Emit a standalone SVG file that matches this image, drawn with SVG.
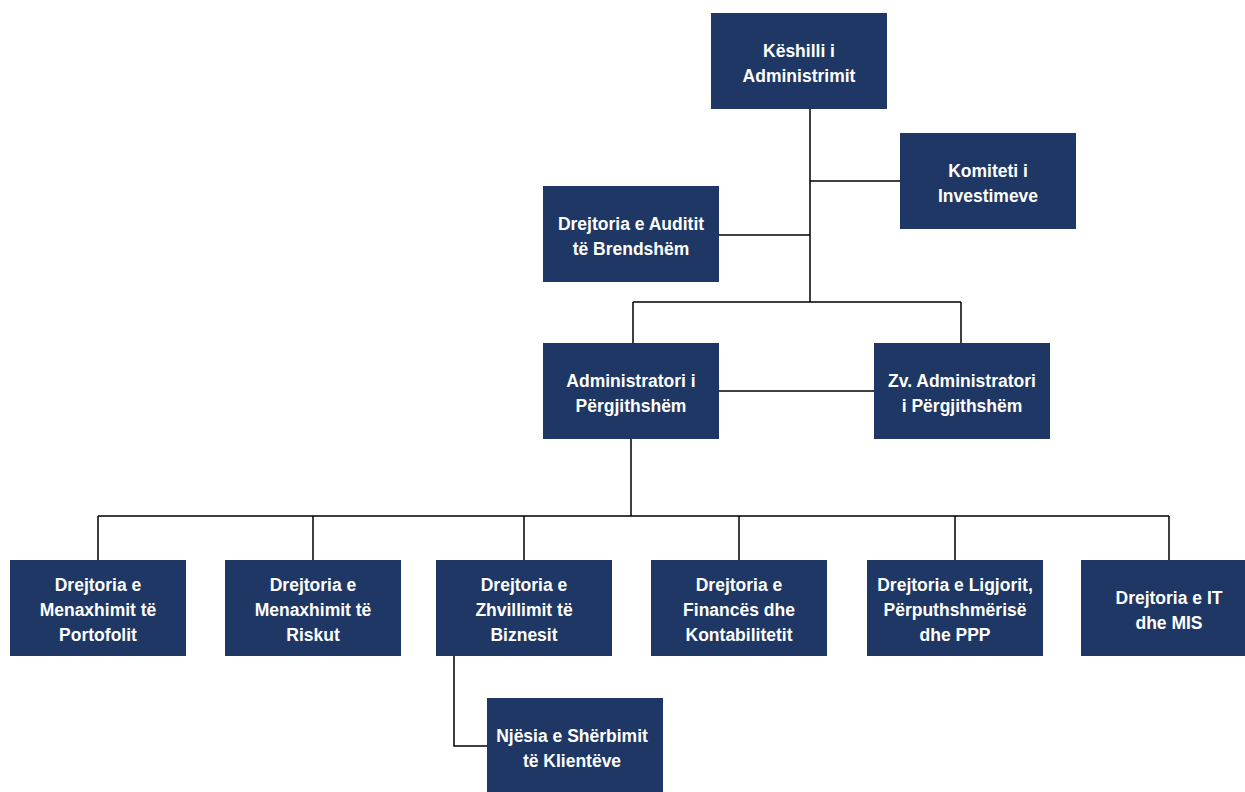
<svg xmlns="http://www.w3.org/2000/svg" width="1245" height="792" viewBox="0 0 1245 792">
<style>
.box{fill:#1E3765}
.t{font-family:"Liberation Sans",Arial,sans-serif;font-weight:bold;font-size:17.5px;fill:#fff;text-anchor:middle}
.c{fill:none;stroke:#000;stroke-width:1.5}
</style>
<rect width="1245" height="792" fill="#fff"/>
<g id="connectors">
<path class="c" d="M810,109 V302 M810,181 H900 M719,235 H810 M633,302 H961 M633,302 V343 M961,302 V343 M719,391 H874 M631,439 V516 M98,516 H1169 M98,516 V560 M313,516 V560 M524,516 V560 M739,516 V560 M955,516 V560 M1169,516 V560 M454,656 V746 H487"/>
</g>
<g id="keshilli"><rect class="box" x="711" y="13" width="176" height="96"/><text class="t" x="799" y="57">Këshilli i</text><text class="t" x="799" y="82">Administrimit</text></g>
<g id="komiteti"><rect class="box" x="900" y="133" width="176" height="96"/><text class="t" x="988" y="177">Komiteti i</text><text class="t" x="988" y="202">Investimeve</text></g>
<g id="auditi"><rect class="box" x="543" y="186" width="176" height="96"/><text class="t" x="631" y="230">Drejtoria e Auditit</text><text class="t" x="631" y="255">të Brendshëm</text></g>
<g id="administratori"><rect class="box" x="543" y="343" width="176" height="96"/><text class="t" x="631" y="387">Administratori i</text><text class="t" x="631" y="412">Përgjithshëm</text></g>
<g id="zv-administratori"><rect class="box" x="874" y="343" width="176" height="96"/><text class="t" x="962" y="387">Zv. Administratori</text><text class="t" x="962" y="412">i Përgjithshëm</text></g>
<g id="portofoli"><rect class="box" x="10" y="560" width="176" height="96"/><text class="t" x="98" y="591">Drejtoria e</text><text class="t" x="98" y="616">Menaxhimit të</text><text class="t" x="98" y="641">Portofolit</text></g>
<g id="risku"><rect class="box" x="225" y="560" width="176" height="96"/><text class="t" x="313" y="591">Drejtoria e</text><text class="t" x="313" y="616">Menaxhimit të</text><text class="t" x="313" y="641">Riskut</text></g>
<g id="biznesi"><rect class="box" x="436" y="560" width="176" height="96"/><text class="t" x="524" y="591">Drejtoria e</text><text class="t" x="524" y="616">Zhvillimit të</text><text class="t" x="524" y="641">Biznesit</text></g>
<g id="financa"><rect class="box" x="651" y="560" width="176" height="96"/><text class="t" x="739" y="591">Drejtoria e</text><text class="t" x="739" y="616">Financës dhe</text><text class="t" x="739" y="641">Kontabilitetit</text></g>
<g id="ligjori"><rect class="box" x="867" y="560" width="176" height="96"/><text class="t" x="955" y="591">Drejtoria e Ligjorit,</text><text class="t" x="955" y="616">Përputhshmërisë</text><text class="t" x="955" y="641">dhe PPP</text></g>
<g id="it"><rect class="box" x="1081" y="560" width="176" height="96"/><text class="t" x="1169" y="604">Drejtoria e IT</text><text class="t" x="1169" y="629">dhe MIS</text></g>
<g id="klientet"><rect class="box" x="487" y="698" width="176" height="96"/><text class="t" x="572" y="742">Njësia e Shërbimit</text><text class="t" x="572" y="767">të Klientëve</text></g>
</svg>
